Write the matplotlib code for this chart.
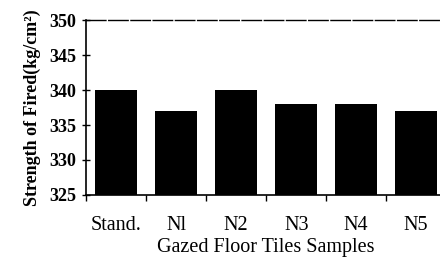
import matplotlib.pyplot as plt

samples = ['Stand.', 'Nl', 'N2', 'N3', 'N4', 'N5']
strength = [340, 337, 340, 338, 338, 337]
y_ticks = [325, 330, 335, 340, 345, 350]

plt.rcParams['font.family'] = ['Liberation Serif', 'DejaVu Serif']

fig = plt.figure(figsize=(4.4, 2.61), dpi=100)
ax = fig.add_axes([0.196, 0.253, 0.818, 0.670])

x = list(range(len(samples)))
ax.bar(x, [s - 325 for s in strength], bottom=325, width=0.7, color='black')

ax.set_xlim(-0.5, len(samples) - 0.5)
ax.set_ylim(325, 350)
ax.set_yticks(y_ticks)
ax.set_yticklabels([str(t) for t in y_ticks], fontweight='bold', fontsize=13)

# ticks sit on the category boundaries, labels in the middle
ax.set_xticks([i - 0.5 for i in range(len(samples) + 1)])
ax.set_xticklabels([])
ax.set_xticks(x, minor=True)
ax.set_xticklabels(samples, minor=True, fontsize=14.5)
ax.tick_params(axis='x', which='minor', length=0, pad=15)
ax.tick_params(axis='x', which='major', length=4, direction='out', width=1)
ax.tick_params(axis='y', length=6, direction='inout', width=1, pad=4)

ax.spines['right'].set_visible(False)
ax.spines['top'].set_linestyle((0, (14, 2)))
ax.spines['top'].set_linewidth(1.0)
ax.spines['left'].set_linewidth(1.2)
ax.spines['bottom'].set_linewidth(1.2)

ax.set_xlabel('Gazed Floor Tiles Samples', fontsize=14.5, labelpad=2)
ax.set_ylabel('Strength of Fired(kg/cm²)', fontsize=13, fontweight='bold', labelpad=6)

fig.savefig('out.png', dpi=100)
